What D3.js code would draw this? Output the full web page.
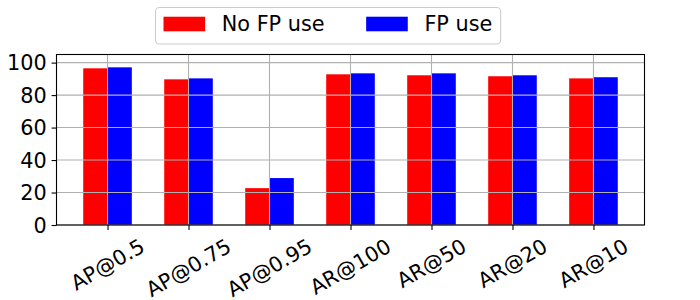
<!DOCTYPE html>
<html>
<head>
<meta charset="utf-8">
<script src="https://cdn.jsdelivr.net/npm/d3@7"></script>
<style>
  body { margin: 0; background: #fff; }
  svg { display: block; font-family: "DejaVu Sans", sans-serif; }
</style>
</head>
<body>
<svg id="chart" width="700" height="300"></svg>
<script>
// values
const categories = ["AP@0.5", "AP@0.75", "AP@0.95", "AR@100", "AR@50", "AR@20", "AR@10"];
const noFpUse = [96.5, 89.7, 22.7, 92.8, 92.2, 91.6, 90.3];
const fpUse = [97.1, 90.3, 28.9, 93.4, 93.4, 92.2, 91.0];
const yTicks = [0, 20, 40, 60, 80, 100];
const seriesNames = ["No FP use", "FP use"];
const seriesColors = ["#ff0000", "#0000ff"];

const svg = d3.select("#chart");
const fontSize = 20.8;
const plot = {left: 56.5, right: 644.5, top: 54.5, bottom: 225};
const barW = 0.3;

let x = d3.scaleLinear()
    .domain([-0.3 - 0.33, categories.length - 1 + 0.3 + 0.33])
    .range([plot.left, plot.right]);
let y = d3.scaleLinear().domain([0, 105]).range([plot.bottom, plot.top]);

// bars
let series = [noFpUse, fpUse];
series.forEach(function(vals, s) {
    svg.append("g").selectAll("rect").data(vals).enter()
        .append("rect")
        .attr("x", function(d, i) { return x(i - barW + s * barW); })
        .attr("width", function(d, i) { return x(i + barW) - x(i); })
        .attr("y", function(d) { return y(d); })
        .attr("height", function(d) { return y(0) - y(d); })
        .style("fill", seriesColors[s]);
});

// grid (drawn above the bars, like the reference)
let grid = svg.append("g").attr("stroke", "#b0b0b0").attr("stroke-width", 1.1);
grid.selectAll("line.h").data(yTicks).enter().append("line")
    .attr("x1", plot.left).attr("x2", plot.right)
    .attr("y1", function(d) { return y(d); }).attr("y2", function(d) { return y(d); });
grid.selectAll("line.v").data(categories).enter().append("line")
    .attr("y1", plot.top).attr("y2", plot.bottom)
    .attr("x1", function(d, i) { return x(i); }).attr("x2", function(d, i) { return x(i); });

// y axis
let yAxis = d3.axisLeft(y).tickValues(yTicks).tickSize(4.9).tickPadding(4.9).tickSizeOuter(0);
let gy = svg.append("g").attr("transform", "translate(" + plot.left + ",0)").call(yAxis);
gy.select(".domain").remove();
gy.selectAll("line").attr("stroke", "#000").attr("stroke-width", 1.1);
gy.selectAll("text").attr("font-size", fontSize).attr("fill", "#000")
    .attr("font-family", "DejaVu Sans").attr("dy", "0.35em");

// x axis ticks
let xAxis = d3.axisBottom(x).tickValues(d3.range(categories.length))
    .tickSize(4.9).tickSizeOuter(0).tickFormat("");
let gx = svg.append("g").attr("transform", "translate(0," + plot.bottom + ")").call(xAxis);
gx.select(".domain").remove();
gx.selectAll("line").attr("stroke", "#000").attr("stroke-width", 1.1);

// rotated labels, bounding box centred under each tick
let labelTop = plot.bottom + 4.9 + 4.9;
let ang = 30 * Math.PI / 180;
categories.forEach(function(c, i) {
    let t = svg.append("text").text(c)
        .attr("font-size", fontSize)
        .attr("text-anchor", "middle")
        .attr("fill", "#000");
    let b = t.node().getBBox();
    let w = b.width, h = fontSize * 1.05;
    let H = w * Math.sin(ang) + h * Math.cos(ang);
    let cx = x(i), cy = labelTop + H / 2;
    t.attr("x", 0).attr("y", 0).attr("dy", "0.35em")
        .attr("transform", "translate(" + cx + "," + cy + ") rotate(-30)");
});

// frame
svg.append("rect")
    .attr("x", plot.left).attr("y", plot.top)
    .attr("width", plot.right - plot.left).attr("height", plot.bottom - plot.top)
    .attr("fill", "none").attr("stroke", "#000").attr("stroke-width", 1.1);

// legend
let legend = svg.append("g");
let box = legend.append("rect")
    .attr("rx", 4).attr("ry", 4)
    .attr("fill", "#fff").attr("fill-opacity", 0.8)
    .attr("stroke", "#cccccc").attr("stroke-width", 1.1);
let lx = 163.5, ly = 24;
seriesNames.forEach(function(name, s) {
    legend.append("rect")
        .attr("x", lx).attr("y", ly - 0.35 * fontSize)
        .attr("width", 2 * fontSize).attr("height", 0.7 * fontSize)
        .style("fill", seriesColors[s]);
    let t = legend.append("text").text(name)
        .attr("x", lx + 2.8 * fontSize).attr("y", ly).attr("dy", "0.35em")
        .attr("font-size", fontSize).attr("fill", "#000");
    lx += 2.8 * fontSize + t.node().getComputedTextLength() + 2 * fontSize;
});
let right = lx - 2 * fontSize + 0.4 * fontSize;
box.attr("x", 155.5).attr("y", 7.5).attr("width", right - 155.5).attr("height", 36.5);
</script>
</body>
</html>
